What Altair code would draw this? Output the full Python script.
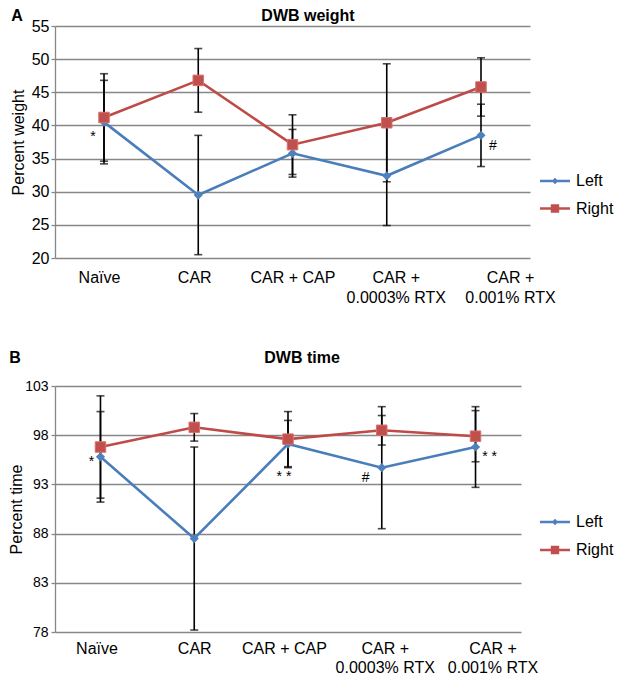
import altair as alt
import pandas as pd

categories = ["Naïve", "CAR", "CAR + CAP", "CAR + 0.0003% RTX", "CAR + 0.001% RTX"]
sides = ["Left", "Right"]

weight_left = [40.5, 29.5, 35.8, 32.4, 38.5]
weight_left_err = [6.3, 9.0, 3.6, 7.5, 4.7]
weight_right = [41.2, 46.8, 37.1, 40.4, 45.8]
weight_right_err = [6.6, 4.8, 4.5, 8.9, 4.4]
weight_ticks = [20, 25, 30, 35, 40, 45, 50, 55]

time_left = [95.8, 87.5, 97.1, 94.7, 96.8]
time_left_err = [4.6, 9.3, 2.4, 6.2, 4.1]
time_right = [96.8, 98.8, 97.6, 98.5, 97.9]
time_right_err = [5.2, 1.4, 2.8, 1.5, 2.6]
time_ticks = [78, 83, 88, 93, 98, 103]

weight_note_cats = ["Naïve", "CAR + 0.001% RTX"]
weight_note_vals = [38.9, 36.9]
weight_note_text = ["*", "#"]

time_note_cats = ["Naïve", "CAR + CAP", "CAR + 0.0003% RTX", "CAR + 0.001% RTX"]
time_note_vals = [95.7, 94.2, 93.7, 96.2]
time_note_text = ["*", "* *", "#", "* *"]

FONT = "Liberation Sans"
BLUE_LINE = "#4a7ebb"
BLUE = "#4f81bd"
RED_LINE = "#be4b48"
RED = "#c0504d"
GRID = "#878787"

LEFT_SYMBOL = "M-1,-0.08H1V0.08H-1Z M-0.22,0L0,-0.22L0.22,0L0,0.22Z"
RIGHT_SYMBOL = "M-1,-0.08H1V0.08H-1Z M-0.28,-0.28H0.28V0.28H-0.28Z"


def make_panel(letter, title, ytitle, left, left_err, right, right_err, ticks,
               note_cats, note_vals, note_text, note_dx, note_dy,
               width, height, tick_font, label_pad, title_pad, xpad, xalign, label_shift,
               xlabel_pad, xline_h,
               head_y, letter_x, title_x, legend_x, legend_y, row_pad):
    rows = []
    for side, vals, errs in (("Left", left, left_err), ("Right", right, right_err)):
        for c, v, e in zip(categories, vals, errs):
            rows.append({"cat": c, "side": side, "value": v, "lo": v - e, "hi": v + e})
    df = pd.DataFrame(rows)

    shift_cond = {
        "condition": [{"test": f"datum.value == '{c}'", "value": s} for c, s in zip(categories, label_shift)],
        "value": 0,
    }
    xenc = alt.X(
        "cat:N", sort=categories,
        scale=alt.Scale(type="point", padding=xpad, align=xalign),
        axis=alt.Axis(
            title=None, labelAngle=0,
            labelExpr="indexof(datum.label, 'RTX') > 0 ? ['CAR +', substring(datum.label, 6)] : datum.label",
            domain=False, ticks=False, grid=False, labelFontSize=16, labelPadding=xlabel_pad,
            labelLineHeight=xline_h, labelOverlap=False, labelColor="black", labelFont=FONT,
            labelBaseline="top", labelOffset=shift_cond,
        ),
    )
    yscale = alt.Scale(domain=[ticks[0], ticks[-1]], nice=False, zero=False)
    yaxis = alt.Axis(
        values=ticks, title=ytitle, grid=True, gridColor=GRID, gridWidth=1.3,
        domain=True, domainColor=GRID, domainWidth=1.3, ticks=True, tickSize=4,
        tickColor=GRID, tickWidth=1.3,
        labelFontSize=tick_font, labelFont=FONT, labelColor="black", labelPadding=label_pad,
        titleFontSize=16, titleFont=FONT, titleFontWeight="normal", titleColor="black",
        titlePadding=title_pad,
    )

    def ych(field):
        return alt.Y(field, scale=yscale, axis=yaxis)

    base = alt.Chart(df)
    layers = []
    for side, color in (("Left", BLUE_LINE), ("Right", RED_LINE)):
        layers.append(
            base.transform_filter(alt.datum.side == side)
            .mark_line(color=color, strokeWidth=2.6)
            .encode(x=xenc, y=ych("value:Q"))
        )
    layers.append(base.mark_rule(color="black", strokeWidth=1.6).encode(x=xenc, y=ych("lo:Q"), y2="hi:Q"))
    for f in ("lo:Q", "hi:Q"):
        layers.append(base.mark_tick(color="black", thickness=1.6, size=8, orient="horizontal").encode(x=xenc, y=ych(f)))
    layers.append(
        base.transform_filter(alt.datum.side == "Left")
        .mark_point(shape="diamond", filled=True, color=BLUE, size=85, opacity=1)
        .encode(x=xenc, y=ych("value:Q"))
    )
    layers.append(
        base.transform_filter(alt.datum.side == "Right")
        .mark_point(shape="square", filled=True, color=RED, size=110, opacity=1,
                    stroke="#d9706c", strokeWidth=1)
        .encode(x=xenc, y=ych("value:Q"))
    )
    for c, v, t, dx, dy in zip(note_cats, note_vals, note_text, note_dx, note_dy):
        ndf = pd.DataFrame({"cat": [c], "value": [v], "t": [t]})
        layers.append(
            alt.Chart(ndf).mark_text(font=FONT, fontSize=14, color="black", dx=dx, dy=dy, baseline="middle")
            .encode(x=xenc, y=ych("value:Q"), text="t:N")
        )
    leg = alt.Legend(
        title=None, orient="none", legendX=legend_x, legendY=legend_y, symbolSize=900,
        labelFontSize=16, labelFont=FONT, labelColor="black", labelOffset=6,
        rowPadding=row_pad, symbolStrokeWidth=0, padding=0,
    )
    layers.append(
        base.transform_filter("false").mark_point(filled=True, opacity=1)
        .encode(
            x=xenc, y=ych("value:Q"),
            color=alt.Color("side:N", scale=alt.Scale(domain=sides, range=[BLUE, RED]), legend=leg),
            shape=alt.Shape("side:N", scale=alt.Scale(domain=sides, range=[LEFT_SYMBOL, RIGHT_SYMBOL]), legend=leg),
        )
    )
    layers.append(
        alt.Chart(pd.DataFrame({"t": [letter]})).mark_text(font=FONT, fontSize=16, fontWeight="bold", color="black", baseline="middle", align="center")
        .encode(text="t:N", x=alt.value(letter_x), y=alt.value(head_y))
    )
    layers.append(
        alt.Chart(pd.DataFrame({"t": [title]})).mark_text(font=FONT, fontSize=16, fontWeight="bold", color="black", baseline="middle", align="center")
        .encode(text="t:N", x=alt.value(title_x), y=alt.value(head_y))
    )
    return alt.layer(*layers).properties(width=width, height=height)


panel_a = make_panel(
    "A", "DWB weight", "Percent weight",
    weight_left, weight_left_err, weight_right, weight_right_err, weight_ticks,
    weight_note_cats, weight_note_vals, weight_note_text, [-11, 12], [4, 0],
    width=475, height=232, tick_font=16, label_pad=2, title_pad=5, xpad=0.52, xalign=0.5,
    label_shift=[-5, -4, 0, 9, 29], xlabel_pad=11, xline_h=20,
    head_y=-10, letter_x=-38, title_x=253, legend_x=485, legend_y=140, row_pad=4.5,
)

panel_b = make_panel(
    "B", "DWB time", "Percent time",
    time_left, time_left_err, time_right, time_right_err, time_ticks,
    time_note_cats, time_note_vals, time_note_text, [-9, -4, -16, 14], [4, 4, 0, 4],
    width=466, height=246, tick_font=14, label_pad=3, title_pad=0, xpad=0.485, xalign=0.5,
    label_shift=[-4, 0, -4, 3, 17], xlabel_pad=8, xline_h=19,
    head_y=-28, letter_x=-40, title_x=247, legend_x=485, legend_y=121, row_pad=5,
)

chart = (
    alt.vconcat(panel_a, panel_b, spacing=45, padding=0)
    .resolve_scale(color="independent", shape="independent")
    .resolve_legend(color="independent", shape="independent")
    .configure_view(stroke=None)
)

chart.save("out.html", embed_options={"renderer": "svg", "actions": False})
